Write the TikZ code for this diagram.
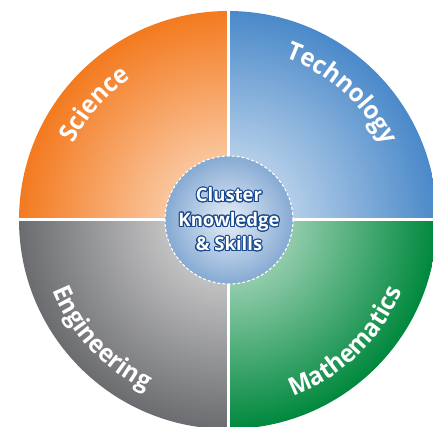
\documentclass[tikz,border=0pt]{standalone}
\usepackage{fontspec}
\setmainfont{Open Sans}
\newfontfamily\lblfam[FakeStretch=0.95]{Open Sans}
\usepackage{contour}
\usetikzlibrary{decorations.text}
\definecolor{sciout}{HTML}{F37A1F}
\definecolor{sciin}{HTML}{FDE6D4}
\definecolor{tecout}{HTML}{4A89C9}
\definecolor{tecin}{HTML}{E2ECF7}
\definecolor{matout}{HTML}{00883D}
\definecolor{matin}{HTML}{D2EADC}
\definecolor{engout}{HTML}{6B6C6F}
\definecolor{engin}{HTML}{E6E6E6}
\definecolor{hubout}{HTML}{86AAD3}
\definecolor{hubin}{HTML}{E6EEF7}
\definecolor{hubline}{HTML}{17488F}
\newcommand\lblstyle{\lblfam\bfseries\fontsize{25pt}{25pt}\selectfont}
\contourlength{1.1pt}
\contournumber{16}
\tikzset{
  arclabel/.style={decorate, decoration={text along path, text align=center, text color=white, text={|\lblstyle|#1}}},
  hub/.style={circle, minimum size=128pt, inner sep=0pt, shading=radial, inner color=hubin, outer color=hubout,
    draw=white, line width=1.1pt, dash pattern=on 3pt off 2pt, text=white, align=center,
    font=\bfseries\fontsize{18.5pt}{24.5pt}\selectfont},
  divider/.style={white, line width=3pt}
}
\begin{document}
\begin{tikzpicture}[x=1pt,y=1pt]
\useasboundingbox (-228,-207) rectangle (205,220);
\clip (-228,-207) rectangle (205,220);
\def\R{209pt}
% quadrants
\begin{scope}
  \clip (0,0) -- (180:\R) arc[start angle=180,end angle=90,radius=\R] -- cycle;
  \shade[inner color=sciin, outer color=sciout] (0,0) circle[radius=\R];
\end{scope}
\begin{scope}
  \clip (0,0) -- (90:\R) arc[start angle=90,end angle=0,radius=\R] -- cycle;
  \shade[inner color=tecin, outer color=tecout] (0,0) circle[radius=\R];
\end{scope}
\begin{scope}
  \clip (0,0) -- (180:\R) arc[start angle=180,end angle=270,radius=\R] -- cycle;
  \shade[inner color=engin, outer color=engout] (0,0) circle[radius=\R];
\end{scope}
\begin{scope}
  \clip (0,0) -- (270:\R) arc[start angle=270,end angle=360,radius=\R] -- cycle;
  \shade[inner color=matin, outer color=matout] (0,0) circle[radius=\R];
\end{scope}
% dividers
\draw[divider] (-211pt,0) -- (211pt,0);
\draw[divider] (0,-211pt) -- (0,211pt);
% labels along arcs
\path[arclabel=Science] (164:172pt) arc[start angle=164,end angle=114,radius=172pt];
\path[arclabel=Technology] (93:172pt) arc[start angle=93,end angle=3,radius=172pt];
\path[arclabel=Engineering] (178:189pt) arc[start angle=178,end angle=268,radius=189pt];
\path[arclabel=Mathematics] (269:188pt) arc[start angle=269,end angle=359,radius=188pt];
% hub
\node[hub] (hub) at (1,0) {\contour{hubline}{Cluster}\\\contour{hubline}{Knowledge}\\\contour{hubline}{\& Skills}};
\end{tikzpicture}
\end{document}
